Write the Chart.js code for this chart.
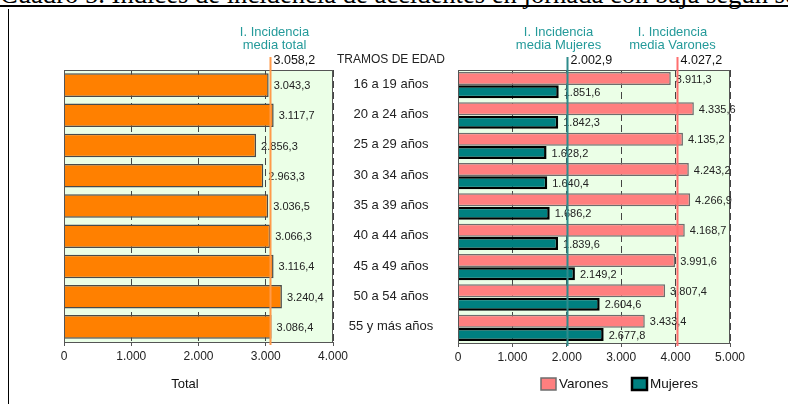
<!DOCTYPE html>
<html lang="es">
<head>
<meta charset="utf-8">
<script src="https://cdn.jsdelivr.net/npm/chart.js@4.4.1/dist/chart.umd.min.js"></script>
<style>
  body { margin: 0; background: #fff; }
  #wrap { position: relative; width: 788px; height: 404px; overflow: hidden; }
  #titulo { position: absolute; left: 0; top: -19px; font: 26.6px/26px "Liberation Serif", "Times New Roman", serif; white-space: nowrap; color: #000; }
  #regla { position: absolute; left: 0; top: 5px; width: 788px; height: 2px; background: #000; }
  #borde { position: absolute; left: 8px; top: 9px; width: 1px; height: 395px; background: #000; }
  canvas { position: absolute; top: 0; }
  #cTotal { left: 0; }
  #cSexo { left: 300px; }
</style>
</head>
<body>
<div id="wrap">
  <div id="titulo">Cuadro 5. Índices de incidencia de accidentes en jornada con baja según sexo y edad</div>
  <div id="regla"></div>
  <div id="borde"></div>
  <canvas id="cTotal" width="400" height="404"></canvas>
  <canvas id="cSexo" width="488" height="404"></canvas>
</div>
<script>
// datos
const tramos = ['16 a 19 años', '20 a 24 años', '25 a 29 años', '30 a 34 años', '35 a 39 años',
                '40 a 44 años', '45 a 49 años', '50 a 54 años', '55 y más años'];
const total = [3043.3, 3117.7, 2856.3, 2963.3, 3036.5, 3066.3, 3116.4, 3240.4, 3086.4];
const varones = [3911.3, 4335.6, 4135.2, 4243.2, 4266.9, 4168.7, 3991.6, 3807.4, 3433.4];
const mujeres = [1851.6, 1842.3, 1628.2, 1640.4, 1686.2, 1839.6, 2149.2, 2604.6, 2677.8];
const mediaTotal = 3058.2;
const mediaMujeres = 2002.9;
const mediaVarones = 4027.2;
const ticksTotal = [0, 1000, 2000, 3000, 4000];
const ticksSexo = [0, 1000, 2000, 3000, 4000, 5000];

// formato español: 3.043,3
function fmt(v, dec) {
  const s = v.toFixed(dec).split('.');
  const ent = s[0].replace(/\B(?=(\d{3})+(?!\d))/g, '.');
  return s[1] ? ent + ',' + s[1] : ent;
}

Chart.defaults.font.family = '"Liberation Sans", Arial, sans-serif';
Chart.defaults.color = '#222';

const TEAL_TXT = '#249a9a';

// fondo verde y marco del area
const fondo = {
  id: 'fondo',
  beforeDraw(chart) {
    const a = chart.chartArea, c = chart.ctx;
    c.save();
    c.fillStyle = '#ebffe7';
    c.fillRect(a.left, a.top, a.right - a.left, a.bottom - a.top);
    c.restore();
  },
  afterDatasetsDraw(chart) {
    const a = chart.chartArea, c = chart.ctx;
    c.save();
    c.strokeStyle = '#555';
    c.lineWidth = 1;
    c.strokeRect(a.left + 0.5, a.top + 0.5, a.right - a.left - 1, a.bottom - a.top);
    c.restore();
  }
};

// valores al final de cada barra
const etiquetas = {
  id: 'etiquetas',
  afterDatasetsDraw(chart) {
    const c = chart.ctx;
    c.save();
    c.font = '11px "Liberation Sans", Arial, sans-serif';
    c.fillStyle = '#222';
    c.textAlign = 'left';
    c.textBaseline = 'middle';
    chart.data.datasets.forEach((ds, d) => {
      chart.getDatasetMeta(d).data.forEach((bar, i) => {
        c.fillText(fmt(ds.data[i], 1), bar.x + 5, bar.y + 1);
      });
    });
    c.restore();
  }
};

// lineas de incidencia media
const medias = {
  id: 'medias',
  afterDraw(chart, args, opts) {
    const a = chart.chartArea, c = chart.ctx, x0 = chart.scales.x;
    c.save();
    (opts.lineas || []).forEach(l => {
      const x = Math.round(x0.getPixelForValue(l.valor)) + 0.5;
      c.strokeStyle = l.color;
      c.lineWidth = 2;
      c.beginPath();
      c.moveTo(x, 57);
      c.lineTo(x, a.bottom + 3);
      c.stroke();
      c.font = '13px "Liberation Sans", Arial, sans-serif';
      c.fillStyle = TEAL_TXT;
      c.textAlign = 'center';
      c.textBaseline = 'middle';
      c.fillText(l.titulo[0], x + l.dx, 32);
      c.fillText(l.titulo[1], x + l.dx, 45);
      c.font = '12.5px "Liberation Sans", Arial, sans-serif';
      c.fillStyle = '#111';
      c.textAlign = 'left';
      c.fillText(fmt(l.valor, 1), x + 3, 61);
    });
    c.restore();
  }
};

function ejeX(ticks, max) {
  return {
    min: 0, max: max,
    afterBuildTicks: s => { s.ticks = ticks.map(v => ({ value: v })); },
    ticks: { callback: v => fmt(v, 0), font: { size: 12 }, padding: 3, maxRotation: 0 },
    grid: { color: '#444', lineWidth: 1, drawTicks: true, tickLength: 4, tickColor: '#555' },
    border: { display: false, dash: [7, 4] },
    afterFit: s => { s.height = 30; }
  };
}

document.addEventListener('DOMContentLoaded', () => {

  // grafico total
  new Chart(document.getElementById('cTotal').getContext('2d'), {
    type: 'bar',
    data: {
      labels: tramos,
      datasets: [{
        label: 'Total',
        data: total,
        backgroundColor: '#ff8000',
        borderColor: '#4a4a4a',
        borderWidth: 1.5,
        categoryPercentage: 1,
        barPercentage: 0.78
      }]
    },
    options: {
      indexAxis: 'y',
      responsive: false,
      animation: false,
      layout: { padding: { left: 64, right: 67, top: 70, bottom: 32 } },
      scales: {
        x: ejeX(ticksTotal, 4000),
        y: { display: false }
      },
      plugins: {
        legend: { display: false },
        tooltip: { enabled: false },
        medias: { lineas: [{ valor: mediaTotal, color: '#ff9a4a', titulo: ['I. Incidencia', 'media total'], dx: 4 }] }
      }
    },
    plugins: [fondo, etiquetas, medias, {
      id: 'tituloEje',
      afterDraw(chart) {
        const c = chart.ctx;
        c.save();
        c.font = '13px "Liberation Sans", Arial, sans-serif';
        c.fillStyle = '#111';
        c.textAlign = 'center';
        c.textBaseline = 'middle';
        c.fillText('Total', chart.chartArea.left + 121, 384);
        c.restore();
      }
    }]
  });

  // grafico por sexo
  new Chart(document.getElementById('cSexo').getContext('2d'), {
    type: 'bar',
    data: {
      labels: tramos,
      datasets: [{
        label: 'Varones',
        data: varones,
        backgroundColor: '#ff7f7f',
        borderColor: '#6e6e6e',
        borderWidth: 1.5,
        categoryPercentage: 0.88,
        barPercentage: 0.97
      }, {
        label: 'Mujeres',
        data: mujeres,
        backgroundColor: '#008080',
        borderColor: '#000',
        borderWidth: 2.5,
        categoryPercentage: 0.88,
        barPercentage: 0.97
      }]
    },
    options: {
      indexAxis: 'y',
      responsive: false,
      animation: false,
      layout: { padding: { left: 158, right: 58, top: 70, bottom: 31 } },
      scales: {
        x: ejeX(ticksSexo, 5000),
        y: { display: false }
      },
      plugins: {
        legend: { display: false },
        tooltip: { enabled: false },
        medias: { lineas: [
          { valor: mediaMujeres, color: '#2e8c8c', titulo: ['I. Incidencia', 'media Mujeres'], dx: -9 },
          { valor: mediaVarones, color: '#ff6f6f', titulo: ['I. Incidencia', 'media Varones'], dx: -5 }
        ] }
      }
    },
    plugins: [fondo, etiquetas, medias, {
      id: 'tramos',
      afterDraw(chart) {
        const c = chart.ctx, y = chart.scales.y;
        c.save();
        c.fillStyle = '#222';
        c.textAlign = 'center';
        c.textBaseline = 'middle';
        c.font = '12px "Liberation Sans", Arial, sans-serif';
        c.fillText('TRAMOS DE EDAD', 91, 60);
        c.font = '13px "Liberation Sans", Arial, sans-serif';
        tramos.forEach((t, i) => c.fillText(t, 91, y.getPixelForValue(i) - 1));
        c.restore();
      }
    }, {
      id: 'leyenda',
      afterDraw(chart) {
        const c = chart.ctx;
        c.save();
        c.font = '13.5px "Liberation Sans", Arial, sans-serif';
        c.textBaseline = 'middle';
        c.textAlign = 'left';
        let x = 241;
        chart.data.datasets.forEach(ds => {
          c.fillStyle = ds.backgroundColor;
          c.fillRect(x, 378, 15, 12);
          c.strokeStyle = ds.borderColor;
          c.lineWidth = ds.borderWidth;
          c.strokeRect(x, 378, 15, 12);
          c.fillStyle = '#111';
          c.fillText(ds.label, x + 18, 384.5);
          x += 91;
        });
        c.restore();
      }
    }]
  });
});
</script>
</body>
</html>
